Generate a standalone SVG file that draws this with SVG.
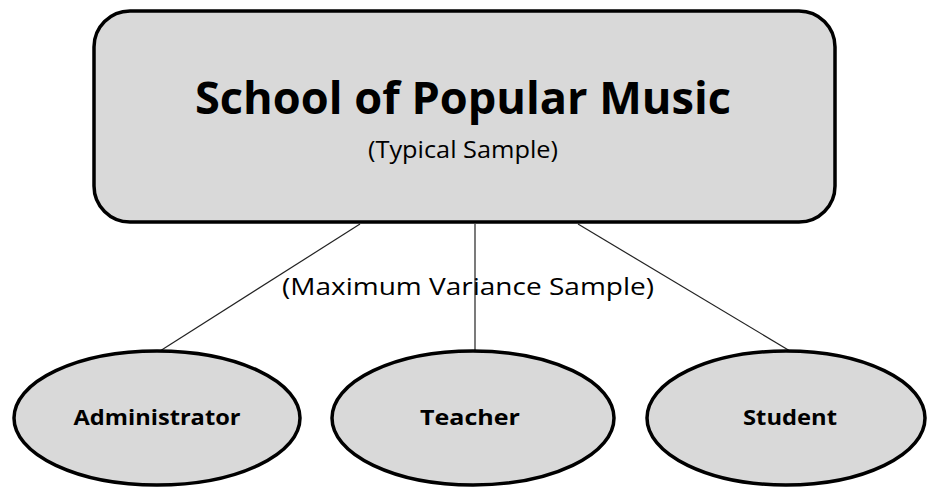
<svg xmlns="http://www.w3.org/2000/svg" width="927" height="489" viewBox="0 0 927 489">
<style>
.shape{fill:#d9d9d9;stroke:#000;stroke-width:3.5}
.conn{stroke:#222;stroke-width:1.2;fill:none}
text{font-family:"Open Sans","Liberation Sans",sans-serif;fill:#000;text-anchor:middle}
.title{font-size:45px;font-weight:bold}
.sub{font-size:23px}
.lbl{font-size:21px;font-weight:bold}
</style>
<rect width="927" height="489" fill="#fff"/>
<g id="connectors">
<line class="conn" x1="360" y1="224" x2="160" y2="351"/>
<line class="conn" x1="475" y1="224" x2="475" y2="351"/>
<line class="conn" x1="578" y1="224" x2="790" y2="351"/>
<text class="sub" x="468" y="295" textLength="372" lengthAdjust="spacingAndGlyphs">(Maximum Variance Sample)</text>
</g>
<g id="school">
<rect class="shape" x="94" y="11" width="741" height="211" rx="36" ry="36"/>
<text class="title" x="463" y="114" textLength="536" lengthAdjust="spacingAndGlyphs">School of Popular Music</text>
<text class="sub" x="463" y="158" textLength="190" lengthAdjust="spacingAndGlyphs">(Typical Sample)</text>
</g>
<g id="administrator">
<ellipse class="shape" cx="157" cy="418" rx="143" ry="67"/>
<text class="lbl" x="157" y="425" textLength="167" lengthAdjust="spacingAndGlyphs">Administrator</text>
</g>
<g id="teacher">
<ellipse class="shape" cx="473" cy="418" rx="141" ry="67"/>
<text class="lbl" x="470" y="425" textLength="100" lengthAdjust="spacingAndGlyphs">Teacher</text>
</g>
<g id="student">
<ellipse class="shape" cx="786" cy="418" rx="139" ry="67"/>
<text class="lbl" x="790" y="425" textLength="94" lengthAdjust="spacingAndGlyphs">Student</text>
</g>
</svg>
